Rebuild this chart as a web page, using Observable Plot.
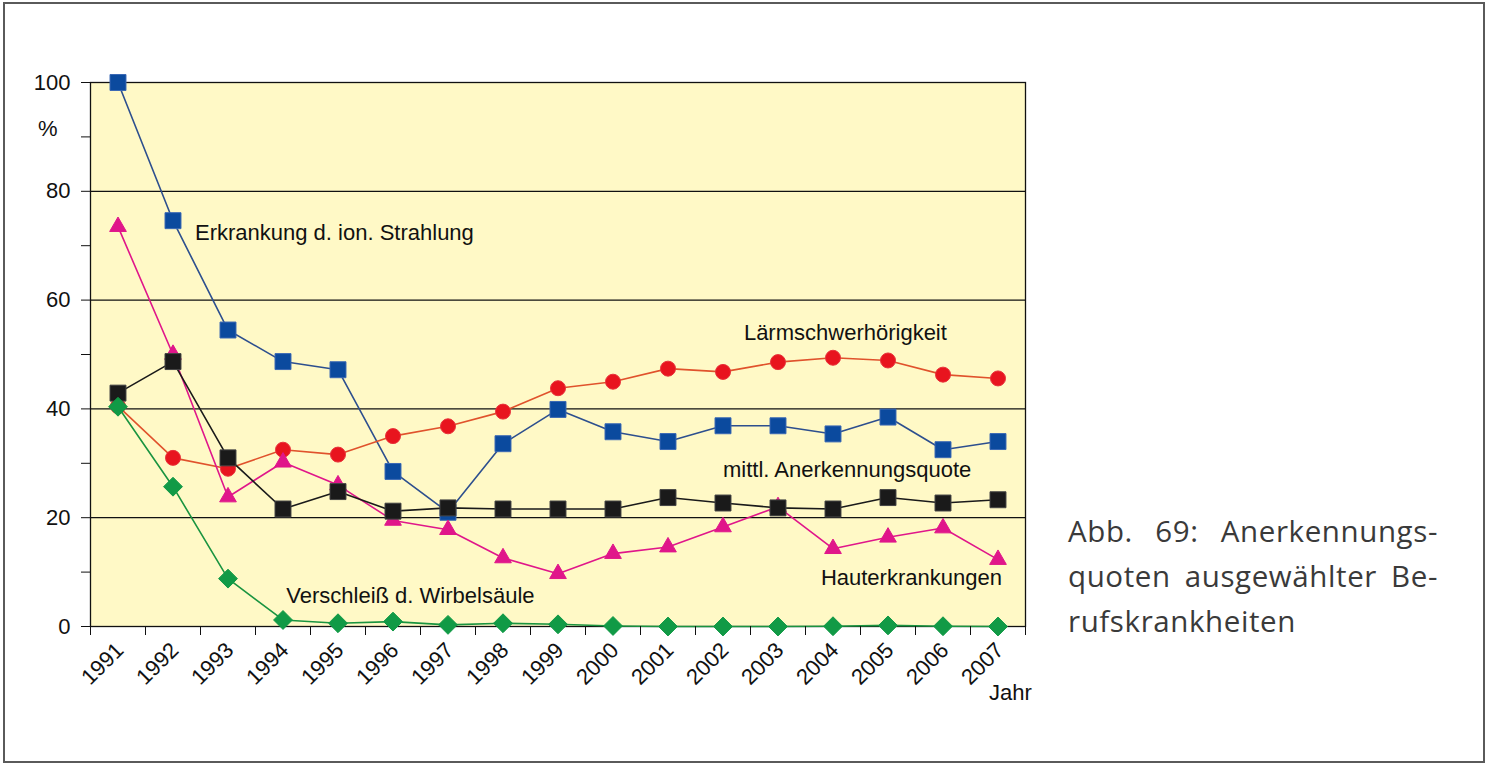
<!DOCTYPE html>
<html>
<head>
<meta charset="utf-8">
<script src="https://cdn.jsdelivr.net/npm/d3@7"></script>
<script src="https://cdn.jsdelivr.net/npm/@observablehq/plot@0.6"></script>
<style>
  html, body { margin: 0; padding: 0; background: #fff; }
  #page { position: relative; width: 1490px; height: 765px; overflow: hidden; }
  #border { position: absolute; left: 3px; top: 2px; width: 1482px; height: 761px; border: 2px solid #5a5a5a; box-sizing: border-box; }
  #chart { position: absolute; left: 0; top: 0; }
  #caption { position: absolute; left: 1068px; top: 508px; width: 370px; font-family: "Open Sans", "Noto Sans", sans-serif; font-size: 29.5px; line-height: 45px; color: #3a3a3a; letter-spacing: 0.6px; }
  #caption div.j { text-align: justify; text-align-last: justify; }
</style>
</head>
<body>
<div id="page">
  <div id="border"></div>
  <div id="chart"></div>
  <div id="caption">
    <div class="j">Abb. 69: Anerkennungs-</div>
    <div class="j">quoten ausgewählter Be-</div>
    <div>rufskrankheiten</div>
  </div>
</div>
<script>
// ---- data ----
const years = [1991, 1992, 1993, 1994, 1995, 1996, 1997, 1998, 1999, 2000, 2001, 2002, 2003, 2004, 2005, 2006, 2007];
const strahlung = [100, 74.6, 54.5, 48.7, 47.2, 28.5, 21.0, 33.6, 39.9, 35.8, 34.0, 36.9, 36.9, 35.4, 38.5, 32.5, 34.0];
const laerm     = [40.5, 31.0, 29.0, 32.5, 31.6, 35.0, 36.8, 39.5, 43.8, 45.0, 47.4, 46.8, 48.6, 49.4, 48.9, 46.3, 45.6];
const haut      = [73.5, 50.0, 23.8, 30.2, 26.0, 19.5, 17.8, 12.6, 9.7, 13.4, 14.6, 18.3, 22.0, 14.3, 16.4, 18.1, 12.3];
const mittl     = [42.9, 48.7, 31.0, 21.6, 24.8, 21.2, 21.8, 21.6, 21.6, 21.6, 23.7, 22.7, 21.8, 21.6, 23.7, 22.7, 23.3];
const wirbel    = [40.4, 25.7, 8.8, 1.2, 0.6, 0.9, 0.3, 0.6, 0.4, 0.1, 0, 0, 0, 0.05, 0.2, 0.05, 0];
const yTicks = [0, 10, 20, 30, 40, 50, 60, 70, 80, 90, 100];
const gridValues = [20, 40, 60, 80];
const seriesLabels = [
  {text: "Erkrankung d. ion. Strahlung", year: 1992.4, value: 72.4},
  {text: "Lärmschwerhörigkeit", year: 2002.38, value: 53.9},
  {text: "mittl. Anerkennungsquote", year: 2002.0, value: 28.7},
  {text: "Hauterkrankungen", year: 2003.78, value: 9.0},
  {text: "Verschleiß d. Wirbelsäule", year: 1994.06, value: 5.7}
];
const unitLabel = "%";
const axisTitle = "Jahr";

// ---- build ----
const toRows = vals => years.map((yr, i) => ({year: yr, value: vals[i]}));
const bounds = years.map(y => y - 0.5).concat([years[years.length - 1] + 0.5]);

function series(vals, lineColor, symbol, r, fill, stroke) {
  const rows = toRows(vals);
  return [
    Plot.line(rows, {x: "year", y: "value", stroke: lineColor, strokeWidth: 1.6}),
    Plot.dot(rows, {x: "year", y: "value", symbol, r, fill, stroke, strokeWidth: 1})
  ];
}

const chart = Plot.plot({
  width: 1040,
  height: 720,
  marginLeft: 90,
  marginRight: 15,
  marginTop: 82,
  marginBottom: 94,
  style: {fontFamily: "'Liberation Sans', Arial, sans-serif", fontSize: "22px", background: "transparent", color: "#111", overflow: "visible"},
  x: {domain: [bounds[0], bounds[bounds.length - 1]]},
  y: {domain: [0, 100]},
  marks: [
    Plot.frame({fill: "#FFF9C6"}),
    Plot.ruleY(gridValues, {stroke: "#111", strokeWidth: 1.3}),
    Plot.frame({stroke: "#111", strokeWidth: 1.3}),
    ...series(strahlung, "#2d4f8e", "square", 9, "#0b4a9e", "#3a68b4"),
    ...series(laerm, "#e0522c", "circle", 7.5, "#e8141e", "#e8323a"),
    ...series(haut, "#e0168a", "triangle", 6.2, "#e0168a", "#e0168a"),
    ...series(mittl, "#1a1a1a", "square", 9, "#1a1a1a", "#444"),
    ...series(wirbel, "#1a9440", "diamond2", 8.5, "#119a46", "#119a46"),
    Plot.axisY(yTicks, {tickSize: 9, tickPadding: 11, tickFormat: d => d % 20 === 0 ? String(d) : "", label: null, stroke: "#111"}),
    Plot.axisY([90], {tickSize: 0, tickPadding: 33, tickFormat: () => unitLabel, dy: -8, label: null}),
    Plot.axisX(bounds, {tickSize: 9, tickFormat: () => "", label: null, stroke: "#111"}),
    Plot.axisX(years, {tickSize: 0, tickPadding: 20, tickRotate: -45, tickFormat: d => String(d), label: null, dx: 2}),
    Plot.text(seriesLabels, {x: "year", y: "value", text: "text", textAnchor: "start", fill: "#111"}),
    Plot.text([axisTitle], {x: () => bounds[bounds.length - 1], y: () => 0, text: d => d, textAnchor: "middle", dy: 66, dx: -15, fill: "#111"})
  ]
});
document.getElementById("chart").appendChild(chart);
</script>
</body>
</html>
